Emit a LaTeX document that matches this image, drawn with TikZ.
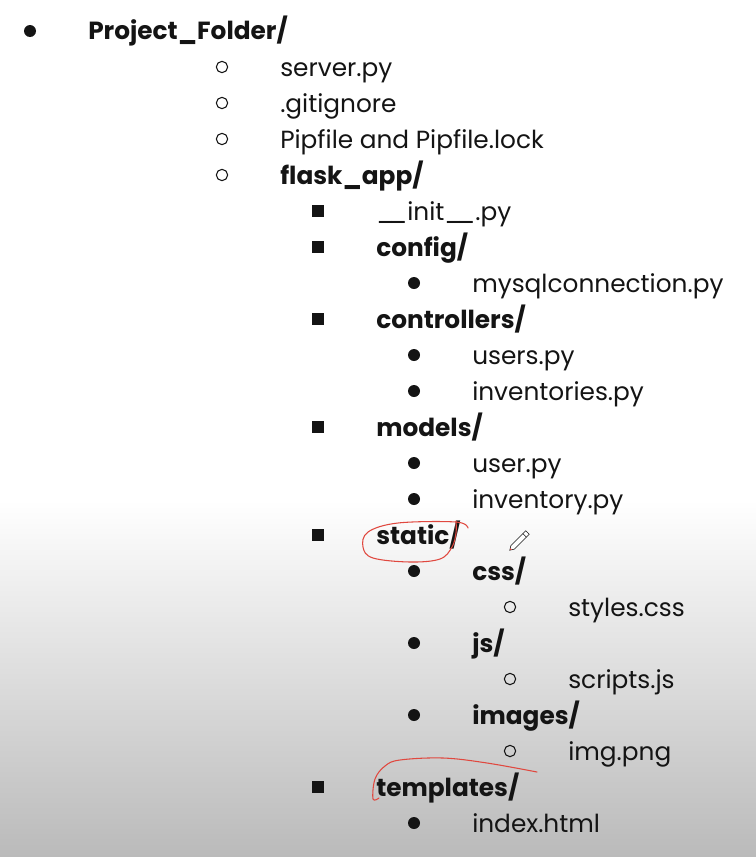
\documentclass[tikz,border=0pt]{standalone}
\usepackage{fontspec}
\setmainfont{Poppins}[Ligatures=NoCommon]
\usepackage{tikz}
\usetikzlibrary{positioning}

\definecolor{ink}{HTML}{141414}
\definecolor{bgbottom}{HTML}{BABABA}
\definecolor{penred}{HTML}{E0483F}

\begin{document}
\begin{tikzpicture}[
    x=0.75pt, y=-0.75pt,
    entry/.style={anchor=base west, inner sep=0pt, text=ink, font=\fontsize{18.6}{22}\selectfont}, % Style for the file names
    folder/.style={entry, font=\fontsize{18.6}{22}\selectfont\bfseries}, % Style for the folder names
    dot/.style={fill=ink, circle, inner sep=0pt, minimum size=9pt}, % filled bullet
    ring/.style={draw=ink, circle, line width=0.8pt, inner sep=0pt, minimum size=8.5pt}, % open bullet
    sq/.style={fill=ink, rectangle, inner sep=0pt, minimum size=8.5pt}, % square bullet
    pen/.style={penred, line width=0.8pt, line cap=round, line join=round} % Style for the hand marks
]

% Page and background fade
\useasboundingbox (0,0) rectangle (756,857);
\fill[white] (0,0) rectangle (756,857);
\shade[top color=white, bottom color=bgbottom] (0,500) rectangle (756,857);

% Level 0
\node[dot] (b-project) at (30,31) {};
\node[folder] (project) at (88,39) {Project\_Folder/};

% Level 1
\node[ring] (b-server) at (222,67) {};
\node[entry] (server) at (280,76) {server.py};
\node[ring] (b-gitignore) at (222,103) {};
\node[entry] (gitignore) at (280,112) {.gitignore};
\node[ring] (b-pipfile) at (222,139) {};
\node[entry] (pipfile) at (280,148) {Pipfile and Pipfile.lock};
\node[ring] (b-flask) at (222,175) {};
\node[folder] (flask) at (280,184) {flask\_app/};

% Level 2
\node[sq] (b-init) at (318,211) {};
\node[entry] (init) at (376,220) {\_\kern-4pt\_init\_\kern-4pt\_.py};
\node[sq] (b-config) at (318,247) {};
\node[folder] (config) at (376,256) {config/};
\node[dot] (b-mysql) at (414,283) {};
\node[entry] (mysql) at (472,292) {mysqlconnection.py};

\node[sq] (b-controllers) at (318,319) {};
\node[folder] (controllers) at (376,328) {controllers/};
\node[dot] (b-users) at (414,355) {};
\node[entry] (users) at (472,364) {users.py};
\node[dot] (b-inventories) at (414,391) {};
\node[entry] (inventories) at (472,400) {inventories.py};

\node[sq] (b-models) at (318,427) {};
\node[folder] (models) at (376,436) {models/};
\node[dot] (b-user) at (414,463) {};
\node[entry] (user) at (472,472) {user.py};
\node[dot] (b-inventory) at (414,499) {};
\node[entry] (inventory) at (472,508) {inventory.py};

\node[sq] (b-static) at (318,535) {};
\node[folder] (static) at (376,544) {static/};
\node[dot] (b-css) at (414,571) {};
\node[folder] (css) at (472,580) {css/};
\node[ring] (b-styles) at (510,607) {};
\node[entry] (styles) at (568,616) {styles.css};
\node[dot] (b-js) at (414,643) {};
\node[folder] (js) at (472,652) {js/};
\node[ring] (b-scripts) at (510,679) {};
\node[entry] (scripts) at (568,688) {scripts.js};
\node[dot] (b-images) at (414,715) {};
\node[folder] (images) at (472,724) {images/};
\node[ring] (b-img) at (510,751) {};
\node[entry] (img) at (568,760) {img.png};

\node[sq] (b-templates) at (318,787) {};
\node[folder] (templates) at (376,796) {templates/};
\node[dot] (b-index) at (414,823) {};
\node[entry] (index) at (472,832) {index.html};

% --- Hand marks ---

% Loop round static/
\draw[pen] plot [smooth, tension=0.6] coordinates {
    (468,528) (456,522) (398,523) (368,532) (363,547) (373,558) (410,562) (440,559) (452,547) (456,533) (456,521)
};

% Stroke over templates/
\draw[pen] plot [smooth, tension=0.6] coordinates {
    (379,798) (373,799) (375,779) (385,766) (400,760) (443,758) (487,763) (537,772)
};

% Pencil cursor
\begin{scope}[shift={(519,541)}, rotate=45]
\draw[ink, line width=0.45pt, fill=white] (-9,-2.5) -- (12,-2.5) -- (12,2.5) -- (-9,2.5) -- (-13,0) -- cycle;
\draw[ink, line width=0.45pt] (8,-2.5) -- (8,2.5);
\fill[penred] (-13,0) -- (-11,-1) -- (-11,1) -- cycle;
\end{scope}

\end{tikzpicture}
\end{document}
